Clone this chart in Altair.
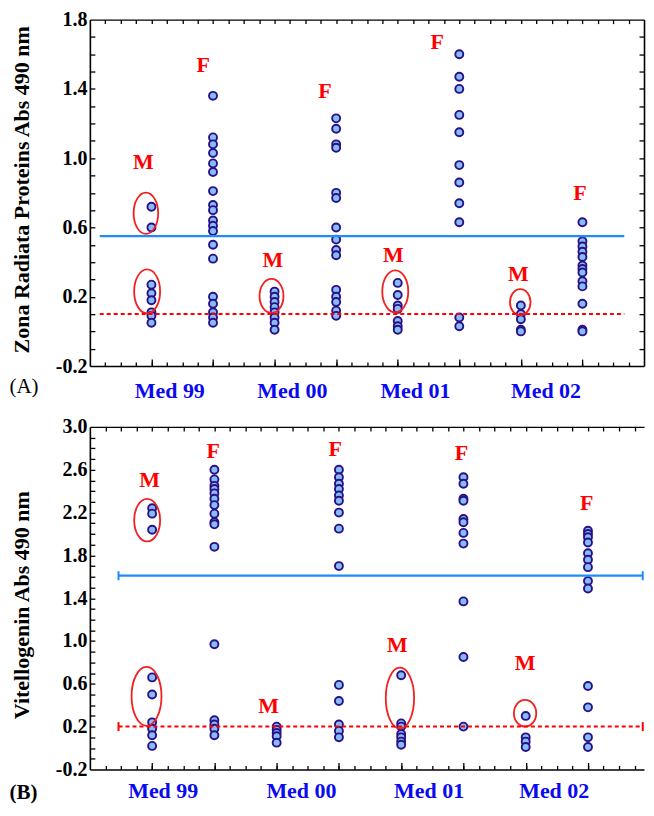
import altair as alt
import pandas as pd

SERIF = "Liberation Serif"
PT_FILL = "#86bdf6"
PT_STROKE = "#2a1086"
LINE_BLUE = "#1e8cff"
RED = "#ff0000"
ELL_RED = "#f22020"
LABEL_BLUE = "#0a0af0"

# ---------------- data ----------------
GROUPS = ["Med 99", "Med 00", "Med 01", "Med 02"]
SEXES = ["M", "F"]

# (A) Zona Radiata Proteins, Abs 490 nm
ZRP_MED99_M = [0.72, 0.60, 0.27, 0.22, 0.18, 0.11, 0.09, 0.05]
ZRP_MED99_F = [1.36, 1.12, 1.08, 1.03, 0.97, 0.92, 0.81, 0.73, 0.70, 0.64, 0.61, 0.58,
               0.50, 0.42, 0.20, 0.16, 0.11, 0.08, 0.05]
ZRP_MED00_M = [0.23, 0.20, 0.17, 0.14, 0.11, 0.08, 0.05, 0.01]
ZRP_MED00_F = [1.23, 1.17, 1.08, 1.06, 0.80, 0.77, 0.60, 0.53, 0.47, 0.44, 0.24, 0.20,
               0.17, 0.12, 0.09]
ZRP_MED01_M = [0.28, 0.21, 0.15, 0.13, 0.06, 0.03, 0.01]
ZRP_MED01_F = [1.60, 1.47, 1.40, 1.25, 1.15, 0.96, 0.86, 0.74, 0.63, 0.08, 0.03]
ZRP_MED02_M = [0.15, 0.10, 0.07, 0.01, 0.00]
ZRP_MED02_F = [0.63, 0.52, 0.49, 0.46, 0.43, 0.38, 0.36, 0.34, 0.29, 0.26, 0.16, 0.01, 0.00]

# (B) Vitellogenin, Abs 490 nm
VTG_MED99_M = [2.24, 2.19, 2.04, 0.66, 0.50, 0.24, 0.18, 0.12, 0.02]
VTG_MED99_F = [2.60, 2.51, 2.45, 2.42, 2.38, 2.33, 2.27, 2.19, 2.11, 2.09, 1.88, 0.97,
               0.26, 0.22, 0.18, 0.12]
VTG_MED00_M = [0.20, 0.17, 0.14, 0.11, 0.05]
VTG_MED00_F = [2.60, 2.53, 2.47, 2.42, 2.36, 2.31, 2.20, 2.05, 1.70, 0.59, 0.44, 0.22,
               0.16, 0.10]
VTG_MED01_M = [0.68, 0.23, 0.20, 0.13, 0.10, 0.06, 0.03]
VTG_MED01_F = [2.53, 2.47, 2.33, 2.31, 2.14, 2.11, 2.01, 1.91, 1.37, 0.85, 0.20]
VTG_MED02_M = [0.30, 0.10, 0.06, 0.01]
VTG_MED02_F = [2.03, 2.00, 1.97, 1.92, 1.82, 1.76, 1.69, 1.56, 1.49, 0.58, 0.38, 0.10, 0.01]

ZRP_SERIES = [ZRP_MED99_M, ZRP_MED99_F, ZRP_MED00_M, ZRP_MED00_F,
              ZRP_MED01_M, ZRP_MED01_F, ZRP_MED02_M, ZRP_MED02_F]
VTG_SERIES = [VTG_MED99_M, VTG_MED99_F, VTG_MED00_M, VTG_MED00_F,
              VTG_MED01_M, VTG_MED01_F, VTG_MED02_M, VTG_MED02_F]

# threshold lines: (blue solid, red dashed) and their x extent
ZRP_THRESH = [0.55, 0.10]
ZRP_THRESH_X = [0.16, 8.68]
VTG_THRESH = [1.61, 0.20]
VTG_THRESH_X = [0.46, 8.88]

# M / F annotation positions (x in group-position units, y in data units)
ZRP_SEX_LABEL_X = [0.87, 1.84, 2.97, 3.82, 4.93, 5.64, 6.96, 7.96]
ZRP_SEX_LABEL_Y = [0.98, 1.54, 0.41, 1.39, 0.44, 1.67, 0.33, 0.80]
VTG_SEX_LABEL_X = [0.96, 1.98, 2.87, 3.94, 4.94, 5.97, 6.99, 7.98]
VTG_SEX_LABEL_Y = [2.50, 2.78, 0.39, 2.79, 0.96, 2.76, 0.79, 2.29]

# red ellipses around male groups: centre x, centre y (data), half-width, half-height (px)
ZRP_ELLIPSES = [(0.91, 0.682, 12.3, 20.7), (0.93, 0.231, 13.0, 22.0),
                (2.95, 0.205, 12.0, 17.0), (4.96, 0.231, 13.0, 21.0),
                (6.99, 0.169, 10.3, 13.0)]
VTG_ELLIPSES = [(0.92, 2.129, 13.0, 21.3), (0.91, 0.483, 15.0, 29.5),
                (4.98, 0.467, 14.2, 30.5), (6.99, 0.325, 11.2, 13.3)]

ZRP_GROUP_LABEL_X = [1.29, 3.28, 5.28, 7.40]
VTG_GROUP_LABEL_X = [1.17, 3.39, 5.44, 7.45]

PLOT_W = 555


def ellipse_shape(rx, ry):
    a = rx / ry
    k = 0.5523
    p = (f"M 0 -1 C {k*a:.4f} -1 {a:.4f} {-k:.4f} {a:.4f} 0 "
         f"C {a:.4f} {k:.4f} {k*a:.4f} 1 0 1 "
         f"C {-k*a:.4f} 1 {-a:.4f} {k:.4f} {-a:.4f} 0 "
         f"C {-a:.4f} {-k:.4f} {-k*a:.4f} -1 0 -1 Z")
    return p, (2 * ry) ** 2


def neg_fmt():
    return "datum.value < 0 ? '-' + format(-datum.value, '.1f') : format(datum.value, '.1f')"


def panel(series, thresh, thresh_x, lab_x, lab_y, ellipses, group_x,
          ydomain, ylabels, ytitle, ytitle_y, xmax, height, tag, tag_weight,
          tag_y, label_pad, right_frame, caps):
    rows = []
    for i, vals in enumerate(series):
        for v in vals:
            rows.append({"pos": i + 1, "value": v})
    df = pd.DataFrame(rows)

    xs = alt.Scale(domain=[0, xmax], nice=False, zero=False)
    ys = alt.Scale(domain=ydomain, nice=False, zero=False)

    n_minor_x = int(round(xmax * 4))
    minor_x = [round(i * 0.25, 2) for i in range(1, n_minor_x) if round(i * 0.25, 2) < xmax]
    n_minor_y = int(round((ydomain[1] - ydomain[0]) * 10))
    minor_y = [round(ydomain[0] + i * 0.1, 2) for i in range(1, n_minor_y)]

    expr = ("datum.value < 2 ? 'Med 99' : datum.value < 4 ? 'Med 00' : "
            "datum.value < 6 ? 'Med 01' : 'Med 02'")

    points = alt.Chart(df).mark_circle(
        size=64, fill=PT_FILL, stroke=PT_STROKE, strokeWidth=1.9, opacity=1
    ).encode(
        x=alt.X("pos:Q", scale=xs, axis=alt.Axis(
            orient="bottom", values=group_x, labelExpr=expr, ticks=False, tickSize=0,
            domain=True, domainColor="black", domainWidth=1.6, grid=False,
            labelFont=SERIF, labelFontSize=22, labelFontWeight="bold",
            labelColor=LABEL_BLUE, labelPadding=label_pad, labelFlush=False,
            labelOverlap=False,
            title=tag, titleFont=SERIF, titleFontSize=21, titleFontWeight=tag_weight,
            titleColor="black", titleX=-81, titleY=tag_y, titleAlign="left",
            titleBaseline="alphabetic")),
        y=alt.Y("value:Q", scale=ys, axis=alt.Axis(
            orient="left", values=ylabels, labelExpr=neg_fmt(), ticks=False, tickSize=0,
            domain=True, domainColor="black", domainWidth=1.6, grid=False,
            labelFont=SERIF, labelFontSize=20, labelFontWeight="bold",
            labelColor="black", labelPadding=3, labelFlush=False, labelOverlap=False,
            title=ytitle, titleFont=SERIF, titleFontSize=22, titleFontWeight="bold",
            titleColor="black", titleX=-61, titleY=ytitle_y,
            titleBaseline="alphabetic")),
    )

    ell_rows = []
    for (cx, cy, rx, ry) in ellipses:
        p, s = ellipse_shape(rx, ry)
        ell_rows.append({"x": cx, "y": cy, "path": p, "size": s})
    ell = alt.Chart(pd.DataFrame(ell_rows)).mark_point(
        filled=False, stroke=ELL_RED, strokeWidth=1.8, opacity=1
    ).encode(
        x=alt.X("x:Q", scale=xs, axis=alt.Axis(
            orient="bottom", offset=-4, tickSize=4, values=minor_x, labels=False,
            domain=False, grid=False, tickColor="black", tickWidth=1.3, title="")),
        y=alt.Y("y:Q", scale=ys, axis=alt.Axis(
            orient="left", offset=-5, tickSize=5, values=minor_y, labels=False,
            domain=False, grid=False, tickColor="black", tickWidth=1.3, title="")),
        shape=alt.Shape("path:N", scale=None),
        size=alt.Size("size:Q", scale=None),
    )

    lab_rows = []
    for i in range(8):
        lab_rows.append({"x": lab_x[i], "y": lab_y[i], "label": SEXES[i % 2]})
    right_tick_axis = alt.Axis(
        orient="right", offset=-5, tickSize=5, values=minor_y, labels=False,
        domain=False, grid=False, tickColor="black", tickWidth=1.3, title="")
    texts = alt.Chart(pd.DataFrame(lab_rows)).mark_text(
        font=SERIF, fontSize=22, fontWeight="bold", color=RED,
        baseline="middle", align="center"
    ).encode(
        x=alt.X("x:Q", scale=xs, axis=alt.Axis(
            orient="top", offset=-4, tickSize=4, values=minor_x, labels=False,
            domain=False, grid=False, tickColor="black", tickWidth=1.3, title="")),
        y=alt.Y("y:Q", scale=ys, axis=right_tick_axis if right_frame else None),
        text="label:N",
    )

    thr_blue = pd.DataFrame([{"x1": thresh_x[0], "x2": thresh_x[1], "y": thresh[0]}])
    thr_red = pd.DataFrame([{"x1": thresh_x[0], "x2": thresh_x[1], "y": thresh[1]}])
    right_dom_axis = alt.Axis(
        orient="right", ticks=False, tickSize=0, labels=False, domain=True,
        domainColor="black", domainWidth=1.6, grid=False, title="")
    blue = alt.Chart(thr_blue).mark_rule(color=LINE_BLUE, strokeWidth=2.3).encode(
        x=alt.X("x1:Q", scale=xs, axis=alt.Axis(
            orient="top", ticks=False, tickSize=0, labels=False, domain=True,
            domainColor="black", domainWidth=1.3, grid=False, title="")),
        x2="x2:Q",
        y=alt.Y("y:Q", scale=ys, axis=right_dom_axis if right_frame else None),
    )
    red = alt.Chart(thr_red).mark_rule(color=RED, strokeWidth=2, strokeDash=[4, 3]).encode(
        x=alt.X("x1:Q", scale=xs, axis=alt.Axis(
            orient="bottom", offset=-7, tickSize=7, values=list(range(1, 9)),
            labels=False, domain=False, grid=False, tickColor="black",
            tickWidth=1.3, title="")),
        x2="x2:Q",
        y=alt.Y("y:Q", scale=ys, axis=None),
    )
    layers = [points, ell, texts, blue, red]
    if caps:
        cap_rows = []
        for xv in thresh_x:
            cap_rows.append({"x": xv, "y": thresh[0], "c": LINE_BLUE})
            cap_rows.append({"x": xv, "y": thresh[1], "c": RED})
        cap = alt.Chart(pd.DataFrame(cap_rows)).mark_tick(
            orient="vertical", size=9, thickness=2, opacity=1
        ).encode(
            x=alt.X("x:Q", scale=xs, axis=None),
            y=alt.Y("y:Q", scale=ys, axis=None),
            color=alt.Color("c:N", scale=None),
        )
        layers.append(cap)

    return alt.layer(*layers).resolve_scale(
        x="independent", y="independent"
    ).resolve_axis(x="independent", y="independent").properties(
        width=PLOT_W, height=height)


top = panel(ZRP_SERIES, ZRP_THRESH, ZRP_THRESH_X, ZRP_SEX_LABEL_X, ZRP_SEX_LABEL_Y,
            ZRP_ELLIPSES, ZRP_GROUP_LABEL_X, [-0.2, 1.8],
            [-0.2, 0.2, 0.6, 1.0, 1.4, 1.8], "Zona Radiata Proteins Abs 490 nm", 170,
            9, 347, "(A)", "normal", 26, 14, True, False)
bottom = panel(VTG_SERIES, VTG_THRESH, VTG_THRESH_X, VTG_SEX_LABEL_X, VTG_SEX_LABEL_Y,
               VTG_ELLIPSES, VTG_GROUP_LABEL_X, [-0.2, 3.0],
               [-0.2, 0.2, 0.6, 1.0, 1.4, 1.8, 2.2, 2.6, 3.0],
               "Vitellogenin Abs 490 nm", 178, 8.9, 343, "(B)", "bold", 29, 11, False, True)

chart = alt.vconcat(top, bottom, spacing=14).properties(
    padding={"left": 0, "top": 0, "right": 0, "bottom": 0}
).configure_view(stroke="transparent")

chart.save("out.html", embed_options={"renderer": "svg", "actions": False})
